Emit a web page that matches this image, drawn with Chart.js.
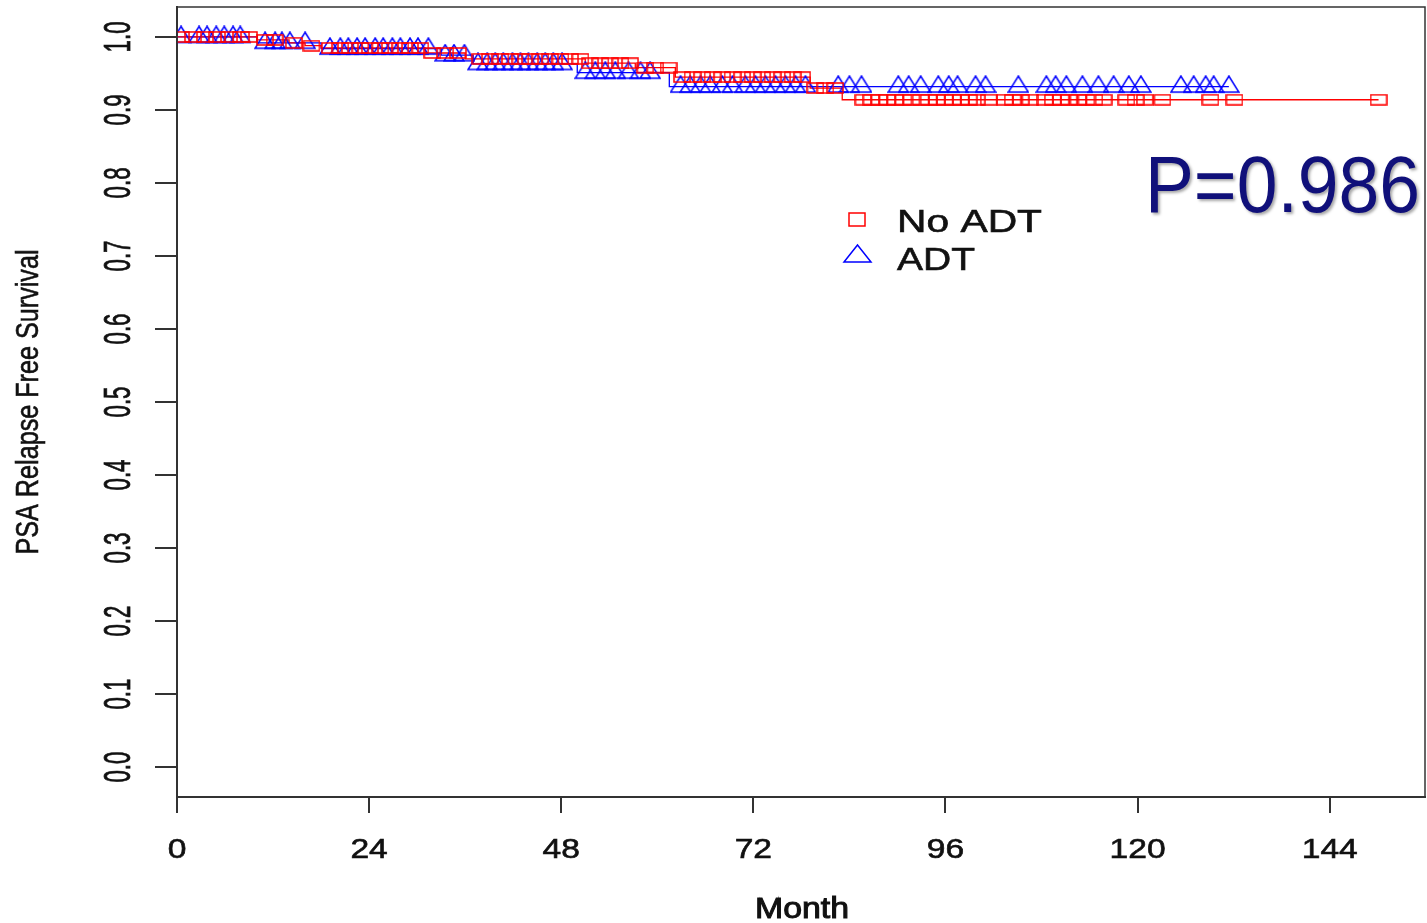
<!DOCTYPE html>
<html>
<head>
<meta charset="utf-8">
<script src="https://cdn.jsdelivr.net/npm/chart.js@4/dist/chart.umd.min.js"></script>
<style>
  html, body { margin: 0; padding: 0; background: #fff; }
  #km { display: block; }
</style>
</head>
<body>
<canvas id="km" width="1427" height="923"></canvas>
<script>
// Kaplan-Meier steps (month, survival after the drop)
const noAdtTimes = [0, 10, 14, 16, 18, 31, 36, 51, 57.25, 62.25, 79.1, 83.1, 150.1];
const noAdtSurv  = [1.0, 0.996, 0.992, 0.988, 0.985, 0.978, 0.970, 0.964, 0.958, 0.945, 0.930, 0.914, 0.914];
const adtTimes = [0, 10, 18, 33, 37, 50, 61.5, 131.4];
const adtSurv  = [1.0, 0.992, 0.984, 0.975, 0.963, 0.951, 0.932, 0.932];

// censored patients (months)
const noAdtCensor = [0.5, 2, 3.5, 5, 6.5, 8, 9, 11, 12.2, 14.6, 16.8,
  19.1, 20.4, 21.6, 22.9, 24.1, 25.4, 26.6, 27.9, 29.1, 30.4,
  31.9, 33.5, 35.1,
  37.9, 39.1, 40.4, 41.6, 42.9, 44.1, 45.4, 46.6, 47.9, 49.1, 50.4,
  51.6, 52.9, 54.1, 55.4, 56.6,
  58.5, 59.75, 61.4,
  63.1, 64.4, 65.6, 66.9, 68.1, 69.4, 70.6, 71.9, 73.1, 74.4, 75.6, 76.9, 78.1,
  79.75, 81, 82.25,
  85.75, 86.75, 87.75, 88.75, 89.75, 90.75, 91.75, 92.9, 93.9, 94.9, 95.9, 96.9, 97.9, 98.9, 99.9,
  101.4, 103.4, 104.4, 105.4, 106.6, 108.4, 109.4, 110.4, 111.4, 112.6, 113.6, 114.6, 115.75,
  118.6, 119.75, 120.9, 123.1, 129.1, 132.1, 150.1];
const adtCensor = [0.5, 2.75, 3.75, 4.9, 5.9, 7, 7.9,
  11, 12.25, 13.1, 14.1, 16,
  19.1, 20.4, 21.4, 22.5, 23.5, 24.75, 25.75, 26.9, 27.9, 29.1, 30.1, 31.4,
  33.5, 34.6, 35.9,
  37.6, 38.75, 39.75, 40.75, 41.9, 42.9, 43.9, 45, 46, 47, 48.1,
  51, 52.25, 53.5, 54.75, 56.4, 57.9, 59.1,
  62.9, 64.1, 65.4, 66.6, 68.1, 69.4, 71, 72.25, 73.5, 74.75, 76, 77.25, 78.5,
  82.6, 84, 85.5, 90.1, 91.4, 92.9, 95.1, 96.4, 97.5, 99.75, 101, 105.1,
  108.6, 109.75, 111.1, 113.1, 115.1, 117, 118.9, 120.4,
  125.4, 127, 128.5, 129.5, 131.4];

const xTicks = [0, 24, 48, 72, 96, 120, 144];
const yTicks = [0, 0.1, 0.2, 0.3, 0.4, 0.5, 0.6, 0.7, 0.8, 0.9, 1.0];

const RED = '#ff0000';
const BLUE = '#0000ff';
const AXIS = '#333333';
const FONT = '"Liberation Sans", Arial, sans-serif';

// survival level at time t for a step curve
function levelAt(times, surv, t) {
  let s = surv[0];
  for (let i = 0; i < times.length; i++) {
    if (times[i] <= t) s = surv[i];
  }
  return s;
}

// marker images (R pch 0 / pch 2 look, stretched like the picture)
function squareMarker(w, h, color) {
  const c = document.createElement('canvas');
  c.width = w + 2; c.height = h + 2;
  const g = c.getContext('2d');
  g.strokeStyle = color; g.lineWidth = 1.5;
  g.strokeRect(1, 1, w, h);
  return c;
}
function triangleMarker(w, h, color) {
  // point sits 2/3 down the triangle, so pad the bottom
  const c = document.createElement('canvas');
  const ch = Math.round(h * 4 / 3) + 2;
  c.width = w + 2; c.height = ch;
  const g = c.getContext('2d');
  g.strokeStyle = color; g.lineWidth = 1.5;
  g.beginPath();
  g.moveTo(1 + w / 2, 1);
  g.lineTo(1 + w, 1 + h);
  g.lineTo(1, 1 + h);
  g.closePath();
  g.stroke();
  return c;
}

const sqImg = squareMarker(16, 10, RED);
const triImg = triangleMarker(20, 16, BLUE);

// stretched text helper (light stroke to thicken like the scan)
function fitText(ctx, str, x, y, font, width, align, angle, thick) {
  ctx.save();
  ctx.font = font;
  const w0 = ctx.measureText(str).width;
  const sx = width ? width / w0 : 1;
  ctx.translate(x, y);
  if (angle) ctx.rotate(angle);
  ctx.scale(sx, 1);
  ctx.textAlign = align || 'left';
  ctx.textBaseline = 'alphabetic';
  ctx.fillText(str, 0, 0);
  if (thick) {
    ctx.strokeStyle = ctx.fillStyle;
    ctx.lineWidth = thick;
    ctx.strokeText(str, 0, 0);
  }
  ctx.restore();
}

const decorations = {
  id: 'decorations',
  afterDraw(chart) {
    const ctx = chart.ctx;
    const a = chart.chartArea;
    const xs = chart.scales.x, ys = chart.scales.y;
    ctx.save();
    // frame
    ctx.strokeStyle = AXIS; ctx.lineWidth = 1.5;
    ctx.strokeRect(a.left, a.top, a.right - a.left, a.bottom - a.top);

    ctx.fillStyle = '#111';
    // y tick labels, rotated
    yTicks.forEach(v => {
      fitText(ctx, v.toFixed(1), 130, ys.getPixelForValue(v), '36px ' + FONT, 31, 'center', -Math.PI / 2, 0.8);
    });
    // x tick labels
    xTicks.forEach(v => {
      ctx.save();
      ctx.font = '28px ' + FONT;
      const w = ctx.measureText(String(v)).width * 1.2;
      ctx.restore();
      fitText(ctx, String(v), xs.getPixelForValue(v), 858, '28px ' + FONT, w, 'center', 0, 0.6);
    });
    // axis titles
    fitText(ctx, 'Month', 802, 918, '29px ' + FONT, 94, 'center', 0, 1);
    fitText(ctx, 'PSA Relapse Free Survival', 38, 402, '32px ' + FONT, 305, 'center', -Math.PI / 2, 0.6);

    // legend
    ctx.strokeStyle = RED; ctx.lineWidth = 1.5;
    ctx.strokeRect(849, 213, 16, 13);
    ctx.strokeStyle = BLUE;
    ctx.beginPath();
    ctx.moveTo(857.5, 245); ctx.lineTo(871, 262); ctx.lineTo(844, 262); ctx.closePath();
    ctx.stroke();
    ctx.fillStyle = '#111';
    fitText(ctx, 'No ADT', 897, 232, '31px ' + FONT, 145, 'left', 0, 0.6);
    fitText(ctx, 'ADT', 897, 270, '31px ' + FONT, 78, 'left', 0, 0.6);

    // p-value
    ctx.shadowColor = 'rgba(0,0,0,0.35)';
    ctx.shadowOffsetX = 2; ctx.shadowOffsetY = 2; ctx.shadowBlur = 3;
    ctx.fillStyle = '#10107a';
    fitText(ctx, 'P=0.986', 1145, 212, '80px ' + FONT, 275, 'left');
    ctx.restore();
  }
};

const noAdtCurve = noAdtTimes.map((t, i) => ({ x: t, y: noAdtSurv[i] }));
const adtCurve = adtTimes.map((t, i) => ({ x: t, y: adtSurv[i] }));
const noAdtMarks = noAdtCensor.map(t => ({ x: t, y: levelAt(noAdtTimes, noAdtSurv, t) }));
const adtMarks = adtCensor.map(t => ({ x: t, y: levelAt(adtTimes, adtSurv, t) }));

const chart = new Chart(document.getElementById('km').getContext('2d'), {
  type: 'scatter',
  data: {
    datasets: [
      { label: 'No ADT censored', data: noAdtMarks, showLine: false, pointStyle: sqImg, order: 1 },
      { label: 'ADT censored', data: adtMarks, showLine: false, pointStyle: triImg, order: 2 },
      { label: 'No ADT', data: noAdtCurve, showLine: true, stepped: true, borderColor: RED,
        borderWidth: 1.3, pointRadius: 0, fill: false, order: 3 },
      { label: 'ADT', data: adtCurve, showLine: true, stepped: true, borderColor: BLUE,
        borderWidth: 1.3, pointRadius: 0, fill: false, order: 4 }
    ]
  },
  options: {
    responsive: false,
    animation: false,
    events: [],
    layout: { autoPadding: false, padding: { top: 7, right: 2, left: 0, bottom: 0 } },
    plugins: { legend: { display: false }, tooltip: { enabled: false } },
    scales: {
      x: {
        type: 'linear', min: 0, max: 155.9,
        afterBuildTicks: s => { s.ticks = xTicks.map(v => ({ value: v })); },
        afterFit: s => { s.height = 126; },
        ticks: { display: false },
        grid: { drawOnChartArea: false, drawTicks: true, tickLength: 16, color: AXIS, lineWidth: 2 },
        border: { display: true, color: AXIS, width: 2 }
      },
      y: {
        type: 'linear', min: -0.041, max: 1.041,
        afterBuildTicks: s => { s.ticks = yTicks.map(v => ({ value: v })); },
        afterFit: s => { s.width = 177; },
        ticks: { display: false },
        grid: { drawOnChartArea: false, drawTicks: true, tickLength: 22, color: AXIS, lineWidth: 2 },
        border: { display: true, color: AXIS, width: 2 }
      }
    }
  },
  plugins: [decorations]
});
</script>
</body>
</html>
